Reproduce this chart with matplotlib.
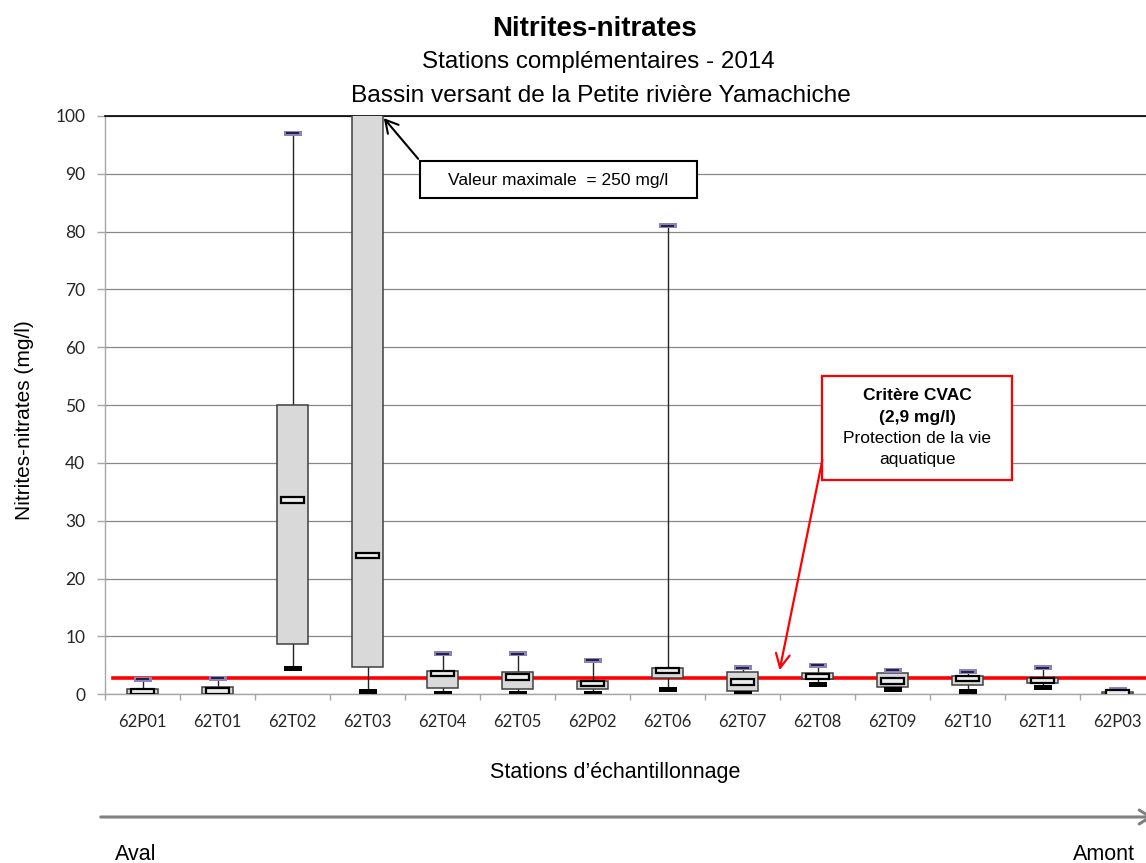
import matplotlib
matplotlib.use("Agg")
import matplotlib.pyplot as plt
from matplotlib.patches import Rectangle, FancyArrowPatch

# Nitrites-nitrates, stations complémentaires 2014 (mg/l)
stations = ["62P01", "62T01", "62T02", "62T03", "62T04", "62T05", "62P02",
            "62T06", "62T07", "62T08", "62T09", "62T10", "62T11", "62P03"]
minimum = [0.15, 0.05, 4.4, 0.4, 0.2, 0.2, 0.2, 0.9, 0.15, 1.7, 0.85, 0.55, 1.15, 0.05]
q1 = [0.1, 0.05, 8.7, 4.7, 1.1, 1.0, 0.9, 2.8, 0.55, 2.7, 1.3, 1.55, 1.9, 0.0]
median = [0.45, 0.6, 33.6, 24.0, 3.6, 3.0, 1.9, 4.15, 2.1, 3.1, 2.3, 2.7, 2.35, 0.2]
q3 = [0.9, 1.3, 50.0, 120.0, 4.05, 3.8, 2.3, 4.55, 3.8, 3.65, 3.65, 3.1, 2.8, 0.45]
maximum = [2.6, 2.75, 97.0, 250.0, 7.0, 7.0, 5.9, 81.0, 4.6, 5.0, 4.2, 3.9, 4.6, 0.75]
yticks = list(range(0, 101, 10))
cvac = 2.9

W, H = 1146, 863
fig = plt.figure(figsize=(W / 100, H / 100), dpi=100)
fig.patch.set_facecolor("white")


def fx(px):
    return px / W


def fy(py):
    return 1 - py / H


ax_left, ax_right, ax_top, ax_bottom = 105, 1155, 116, 694.3
ax = fig.add_axes([fx(ax_left), fy(ax_bottom), fx(ax_right - ax_left),
                   (ax_bottom - ax_top) / H])
ax.set_xlim(-0.5, len(stations) - 0.5)
ax.set_ylim(0, 100)

# pixel -> data unit helpers for marker sizes
px_x = (len(stations)) / (ax_right - ax_left)
px_y = 100 / (ax_bottom - ax_top)

box_w = 31 * px_x
med_w, med_h = 23 * px_x, 5.5 * px_y
cap_w, cap_h = 18 * px_x, 5 * px_y

# criterion line
ax.axhline(cvac, xmin=8 / (ax_right - ax_left), xmax=1, color="#FF0000",
           lw=2.6, zorder=2)

for i in range(len(stations)):
    # whiskers
    ax.plot([i, i], [q3[i], maximum[i]], color="#262626", lw=1.0, zorder=3)
    ax.plot([i, i], [minimum[i], q1[i]], color="#262626", lw=1.0, zorder=3)
    # box
    ax.add_patch(Rectangle((i - box_w / 2, q1[i]), box_w, q3[i] - q1[i],
                           facecolor="#D9D9D9", edgecolor="#404040",
                           lw=1.1, zorder=4))
    # minimum marker
    ax.add_patch(Rectangle((i - cap_w / 2, minimum[i] - cap_h / 2), cap_w, cap_h,
                           facecolor="black", edgecolor="none", zorder=6))
    # maximum marker
    ax.add_patch(Rectangle((i - cap_w / 2, maximum[i] - cap_h / 2), cap_w, cap_h,
                           facecolor="#8F80BE", edgecolor="none", zorder=6))
    ax.plot([i - cap_w * 0.38, i + cap_w * 0.38], [maximum[i], maximum[i]],
            color="#1A1A33", lw=1.3, zorder=7, solid_capstyle="butt")
    # median marker
    ax.add_patch(Rectangle((i - med_w / 2, median[i] - med_h / 2), med_w, med_h,
                           facecolor="#ECECEC", edgecolor="black",
                           lw=1.6, zorder=7))

# axes styling
ax.spines["right"].set_visible(False)
ax.spines["top"].set_color("black")
ax.spines["top"].set_linewidth(1.2)
ax.spines["left"].set_color("#A6A6A6")
ax.spines["bottom"].set_color("#A6A6A6")
ax.spines["left"].set_linewidth(1.0)
ax.spines["bottom"].set_linewidth(1.0)

ax.set_yticks(yticks)
ax.yaxis.grid(True, color="#888888", lw=0.9, zorder=0)
ax.set_axisbelow(True)
ax.tick_params(axis="y", length=5.8, width=1.0, color="#A6A6A6", pad=8.5,
               labelsize=12.5, labelcolor="#262626")
for lab in ax.get_yticklabels():
    lab.set_fontfamily("Lato")

ax.set_xticks(range(len(stations)))
ax.set_xticklabels(stations, fontfamily="Lato", fontsize=12, color="#262626")
ax.set_xticks([k - 0.5 for k in range(len(stations) + 1)], minor=True)
ax.tick_params(axis="x", which="major", length=0, pad=14)
ax.tick_params(axis="x", which="minor", length=4.5, width=1.0, color="#A6A6A6")

# titles
tfont = "Liberation Sans"
fig.text(fx(595), fy(36), "Nitrites-nitrates", ha="center", va="baseline",
         fontsize=20, fontweight="bold", family=tfont)
fig.text(fx(598), fy(68), "Stations complémentaires - 2014", ha="center",
         va="baseline", fontsize=17.4, family=tfont)
fig.text(fx(601), fy(101.5), "Bassin versant de la Petite rivière Yamachiche",
         ha="center", va="baseline", fontsize=17.6, family=tfont)
fig.text(fx(25), fy(420), "Nitrites-nitrates (mg/l)", ha="center", va="center",
         rotation=90, fontsize=15, family=tfont)
fig.text(fx(615), fy(772), "Stations d\u2019échantillonnage", ha="center",
         va="center", fontsize=15.5, family=tfont)

# upstream/downstream arrow
fig.patches.append(FancyArrowPatch((fx(98), fy(817)), (fx(1156), fy(817)),
                                   transform=fig.transFigure,
                                   arrowstyle="->,head_length=8,head_width=5",
                                   color="#808080", lw=2.2))
fig.text(fx(115), fy(854), "Aval", ha="left", va="center", fontsize=15.5,
         family=tfont)
fig.text(fx(1135), fy(854), "Amont", ha="right", va="center", fontsize=15.5,
         family=tfont)

# maximum value annotation
fig.patches.append(Rectangle((fx(420), fy(198)), fx(697 - 420), (198 - 161) / H,
                             transform=fig.transFigure, facecolor="white",
                             edgecolor="black", lw=1.5, zorder=5))
fig.text(fx(558), fy(180), "Valeur maximale  = 250 mg/l", ha="center",
         va="center", fontsize=12.5, family=tfont, zorder=6)
fig.patches.append(FancyArrowPatch((fx(420), fy(161)), (fx(382), fy(116)),
                                   transform=fig.transFigure,
                                   arrowstyle="->,head_length=9,head_width=5",
                                   color="black", lw=1.5, zorder=6))

# criterion annotation
fig.patches.append(Rectangle((fx(822), fy(480)), fx(1012 - 822), (480 - 376) / H,
                             transform=fig.transFigure, facecolor="white",
                             edgecolor="#FF0000", lw=1.6, zorder=5))
for txt, yy, wt in [("Critère CVAC", 395, "bold"), ("(2,9 mg/l)", 417, "bold"),
                    ("Protection de la vie", 438, "normal"),
                    ("aquatique", 459, "normal")]:
    fig.text(fx(917), fy(yy), txt, ha="center", va="center", fontsize=12.5,
             fontweight=wt, family=tfont, zorder=6)
fig.patches.append(FancyArrowPatch((fx(823), fy(457)), (fx(779), fy(673)),
                                   transform=fig.transFigure,
                                   arrowstyle="->,head_length=10,head_width=5",
                                   color="#FF0000", lw=1.6, zorder=6))

fig.savefig("out.png", dpi=100)
